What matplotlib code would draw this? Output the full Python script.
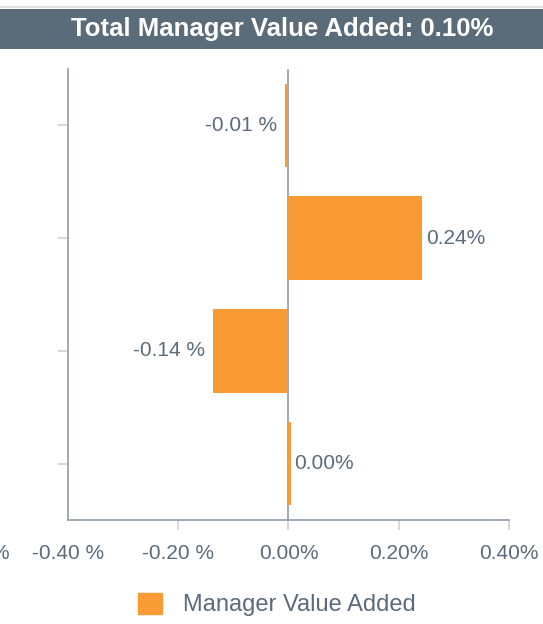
import numpy as np
import matplotlib
matplotlib.use("Agg")
import matplotlib.pyplot as plt
from matplotlib.patches import Rectangle

plt.rcParams['font.family'] = ['Liberation Sans', 'DejaVu Sans']

# values (top to bottom)
categories = ['A', 'B', 'C', 'D']
values = [-0.006, 0.243, -0.137, 0.004]
xticks = [-0.4, -0.2, 0.0, 0.2, 0.4]
xtick_labels = ['-0.40 %', '-0.20 %', '0.00%', '0.20%', '0.40%']
title = 'Total Manager Value Added: 0.10%'
legend_label = 'Manager Value Added'

bar_col = '#f99b35'
text_col = '#5b6b7b'
axis_col = '#8e9cad'
tick_col = '#d9d9d9'
band_col = '#5a6b7a'


def fmt(v):
    # negatives carry a space before the percent sign in the original
    if round(v, 2) < 0:
        return f'{v:.2f} %'
    return f'{abs(v):.2f}%'


fig = plt.figure(figsize=(5.43, 6.24), dpi=100)

# title band
fig.patches.append(Rectangle((0, 0.9215), 1, 0.0641, transform=fig.transFigure,
                             facecolor=band_col, edgecolor='none'))
fig.lines.append(plt.Line2D([0, 1], [0.9885, 0.9885], transform=fig.transFigure,
                            color='#d5dbe0', lw=1.2))
fig.text(0.52, 0.9535, title, color='white', fontsize=18.5, fontweight='bold',
         ha='center', va='center')

ax = fig.add_axes([0.1252, 0.1667, 0.8122, 0.7227])
y = np.arange(len(categories))
ax.axvline(0, color=axis_col, lw=1.2, zorder=1)
ax.barh(y, values, height=0.74, color=bar_col, zorder=2)

for yi, v in zip(y, values):
    off = 2.5 if v >= 0 else -6
    ax.annotate(fmt(v), (v, yi), xytext=(off, 0), textcoords='offset points',
                ha='left' if v >= 0 else 'right', va='center',
                color=text_col, fontsize=15)

ax.set_xlim(-0.4, 0.4)
ax.set_ylim(3.5, -0.5)
ax.set_xticks(xticks)
ax.set_xticklabels(xtick_labels)
ax.set_yticks(y)
ax.set_yticklabels([])

for s in ['top', 'right']:
    ax.spines[s].set_visible(False)
for s in ['left', 'bottom']:
    ax.spines[s].set_color(axis_col)
    ax.spines[s].set_linewidth(1.2)

ax.tick_params(axis='x', colors=tick_col, labelcolor=text_col, labelsize=15,
               length=7, width=1.5, pad=10)
ax.tick_params(axis='y', colors=tick_col, length=7, width=1.5)
ax.xaxis.get_major_ticks()[0].tick1line.set_visible(False)

# clipped fragment of the next tick label at the left edge
fig.text(0.017, 0.113, '%', color=text_col, fontsize=15, ha='right', va='center')

# legend
fig.legend(handles=[Rectangle((0, 0), 1, 1, color=bar_col)], labels=[legend_label],
           loc='center', bbox_to_anchor=(0.51, 0.031), frameon=False,
           fontsize=17, labelcolor=text_col, handlelength=1.0, handleheight=1.0,
           handletextpad=0.9)

fig.savefig('out.png', dpi=100)
